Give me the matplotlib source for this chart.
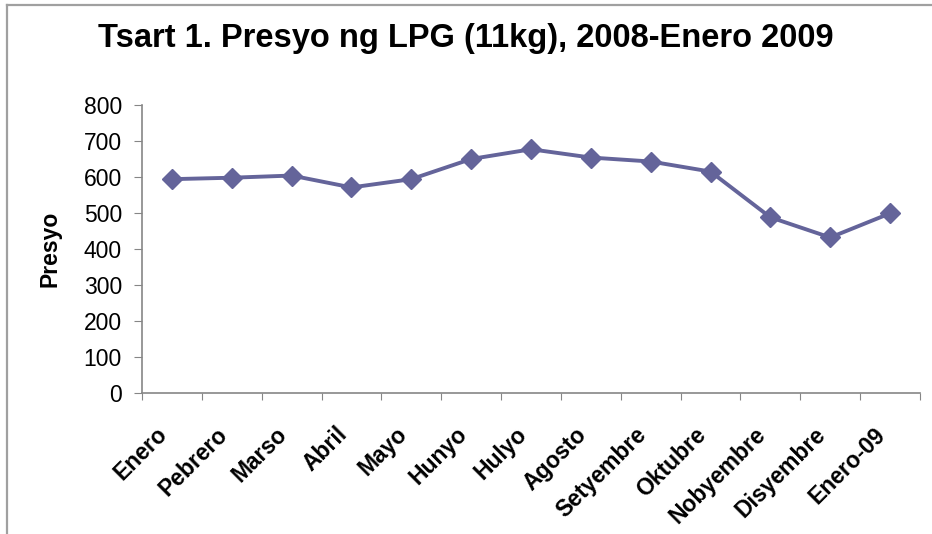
import matplotlib.pyplot as plt
from matplotlib.lines import Line2D
from matplotlib.transforms import ScaledTranslation

plt.rcParams['font.family'] = ['Liberation Sans', 'DejaVu Sans']

months = ["Enero", "Pebrero", "Marso", "Abril", "Mayo", "Hunyo", "Hulyo",
          "Agosto", "Setyembre", "Oktubre", "Nobyembre", "Disyembre", "Enero-09"]
prices = [594, 598, 604, 571, 594, 650, 677, 654, 643, 615, 488, 432, 499]
y_ticks = [0, 100, 200, 300, 400, 500, 600, 700, 800]


def plot_graph():
    fig = plt.figure(figsize=(9.32, 5.34), dpi=100)
    ax = fig.add_axes([0.1524, 0.2640, 0.8347, 0.5394])

    x = list(range(len(months)))
    ax.plot(x, prices, color="#64649a", linewidth=2.8,
            marker="D", markersize=10, markeredgecolor="#64649a")

    ax.set_xlim(-0.5, len(months) - 0.5)
    ax.set_ylim(0, 800)
    ax.set_yticks(y_ticks)
    ax.tick_params(axis="y", labelsize=16.5, length=5.5, color="#868686", pad=9)

    # major ticks sit between categories, labels on the minor ticks
    ax.set_xticks([i - 0.5 for i in range(len(months) + 1)])
    ax.set_xticklabels([])
    ax.set_xticks(x, minor=True)
    ax.set_xticklabels(months, minor=True, rotation=45, ha="right",
                       va="center", rotation_mode="anchor",
                       fontsize=16.5, fontweight="bold")
    ax.tick_params(axis="x", which="major", length=5, color="#868686")
    ax.tick_params(axis="x", which="minor", length=0, pad=0)
    shift = ScaledTranslation(-0.08, -0.38, fig.dpi_scale_trans)
    for lbl in ax.get_xticklabels(minor=True):
        lbl.set_transform(lbl.get_transform() + shift)

    for side in ["top", "right"]:
        ax.spines[side].set_visible(False)
    for side in ["left", "bottom"]:
        ax.spines[side].set_color("#868686")
        ax.spines[side].set_linewidth(1.2)

    ax.set_ylabel("Presyo", fontsize=16.5, fontweight="bold")
    ax.yaxis.set_label_coords(-0.104, 0.5)
    fig.text(0.5, 1 - 47.5 / 534, "Tsart 1. Presyo ng LPG (11kg), 2008-Enero 2009",
             ha="center", va="baseline", fontsize=23.5, fontweight="bold")

    # chart border (only top and left visible in the original)
    fig.add_artist(Line2D([0.008, 0.008], [0, 0.99], transform=fig.transFigure,
                          color="#a0a0a0", linewidth=1.6))
    fig.add_artist(Line2D([0.008, 1], [0.99, 0.99], transform=fig.transFigure,
                          color="#a0a0a0", linewidth=1.6))

    fig.savefig("out.png", dpi=100)


if __name__ == "__main__":
    plot_graph()
